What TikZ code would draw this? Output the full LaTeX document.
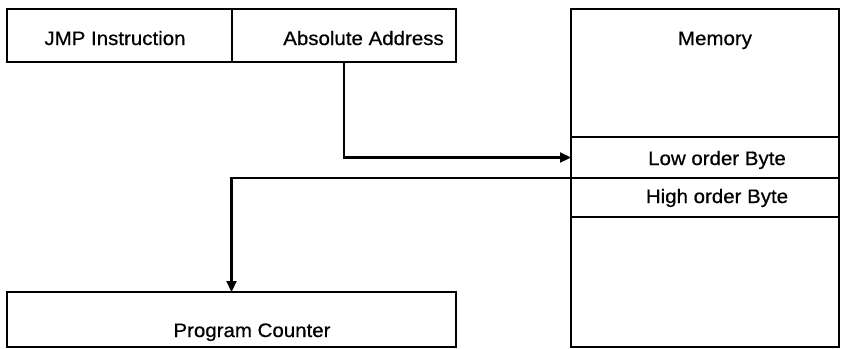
\documentclass[tikz,border=0pt]{standalone}
\usepackage{fontspec}
\setmainfont{Liberation Sans}[FakeStretch=1.05,FakeBold=0.6]
\usetikzlibrary{arrows.meta}
\begin{document}
\begin{tikzpicture}[x=1pt,y=-1pt,
  box/.style={draw=black,line width=2.2pt,rectangle,inner sep=0pt,outer sep=0pt},
  lbl/.style={anchor=base,inner sep=0pt,font=\fontsize{19.5}{22}\selectfont},
  conn/.style={line width=2.2pt,-{Triangle[length=11pt,width=10pt]}}]
\useasboundingbox (0,0) rectangle (842,348);
\fill[white] (0,0) rectangle (842,348);
% top instruction boxes
\node[box,minimum width=225pt,minimum height=53pt] (jmp) at (119.5,35.5) {};
\node[box,minimum width=224pt,minimum height=53pt] (addr) at (344,35.5) {};
% memory
\node[box,minimum width=268pt,minimum height=128pt] (memtop) at (705,73) {};
\node[box,minimum width=268pt,minimum height=41pt] (low) at (705,157.5) {};
\node[box,minimum width=268pt,minimum height=39pt] (high) at (705,197.5) {};
\node[box,minimum width=268pt,minimum height=130pt] (membot) at (705,282) {};
% program counter
\node[box,minimum width=449pt,minimum height=55pt] (pc) at (231.5,319.5) {};
% labels
\node[lbl] (tjmp) at (115,45) {JMP Instruction};
\node[lbl] (taddr) at (363.5,45) {Absolute Address};
\node[lbl] (tmem) at (715,45) {Memory};
\node[lbl] (tlow) at (717,165) {Low order Byte};
\node[lbl] (thigh) at (717,203) {High order Byte};
\node[lbl] (tpc) at (252,337) {Program Counter};
% connectors
\draw[conn] (addr.south) |- (low.west);
\draw[conn] (low.south west) -| (pc.north);
\end{tikzpicture}
\end{document}
